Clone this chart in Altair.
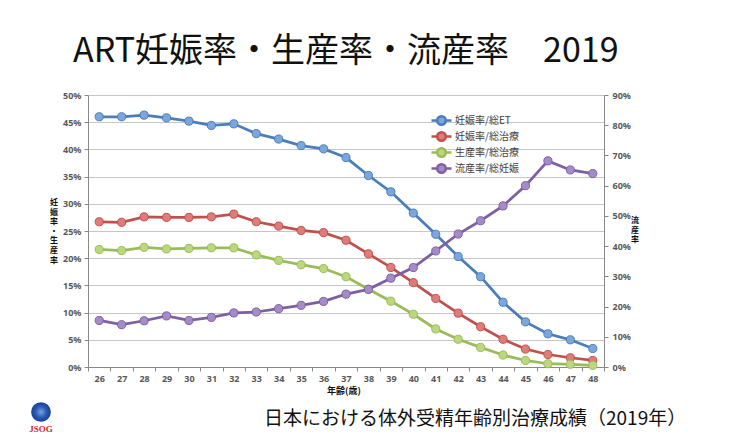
import altair as alt
import pandas as pd

ages = list(range(26, 49))
series_names = ["妊娠率/総ET", "妊娠率/総治療", "生産率/総治療", "流産率/総妊娠"]
preg_et = [46.0, 46.0, 46.3, 45.8, 45.2, 44.4, 44.7, 42.9, 41.9, 40.7, 40.1, 38.5,
           35.2, 32.2, 28.3, 24.4, 20.3, 16.6, 11.9, 8.3, 6.1, 5.0, 3.4]
preg_total = [26.7, 26.6, 27.6, 27.5, 27.5, 27.6, 28.1, 26.7, 25.9, 25.1, 24.7, 23.3,
              20.8, 18.3, 15.5, 12.6, 9.9, 7.4, 5.1, 3.3, 2.3, 1.7, 1.2]
birth_total = [21.6, 21.4, 22.0, 21.7, 21.8, 21.9, 21.9, 20.6, 19.6, 18.8, 18.1, 16.6,
               14.3, 12.1, 9.7, 7.0, 5.1, 3.6, 2.2, 1.2, 0.6, 0.5, 0.3]
miscarriage = [15.4, 14.0, 15.3, 16.9, 15.4, 16.4, 17.9, 18.2, 19.3, 20.4, 21.7, 24.1,
               25.7, 29.4, 32.9, 38.4, 44.0, 48.4, 53.3, 60.0, 68.2, 65.2, 64.0]
left_ticks = [0, 0.05, 0.10, 0.15, 0.20, 0.25, 0.30, 0.35, 0.40, 0.45, 0.50]
right_ticks = [0, 0.1, 0.2, 0.3, 0.4, 0.5, 0.6, 0.7, 0.8, 0.9]

title_text = "ART妊娠率・生産率・流産率　2019"
subtitle_text = "日本における体外受精年齢別治療成績（2019年）"
left_title = ["妊", "娠", "率", "・", "生", "産", "率"]
right_title = ["流", "産", "率"]
x_title = "年齢(歳)"

rows = []
for name, vals, side in [(series_names[0], preg_et, "left"),
                         (series_names[1], preg_total, "left"),
                         (series_names[2], birth_total, "left"),
                         (series_names[3], miscarriage, "right")]:
    for a, v in zip(ages, vals):
        rows.append({"age": a, "series": name, "value": v / 100.0, "side": side})
df = pd.DataFrame(rows)

line_colors = ["#4A7EBB", "#C0504D", "#9BBB59", "#7E5FA4"]
fill_colors = ["#7DA6DC", "#DD7C79", "#BBD97C", "#A58CC8"]

AXIS_GRAY = "#888888"
LABEL_GRAY = "#595959"
LFONT = "Noto Sans"
JFONT = "Noto Sans CJK JP"

legend = alt.Legend(
    title=None, orient="none", legendX=347, legendY=19, padding=0,
    symbolType="M-2,0L-0.85,0M0.85,0L2,0M-0.85,0A0.85,0.85 0 1,0 0.85,0A0.85,0.85 0 1,0 -0.85,0Z",
    symbolSize=100, symbolStrokeWidth=2.5, labelOffset=7, rowPadding=-3,
    labelFont=JFONT, labelFontSize=10, labelColor="#404040",
)

stroke_enc = alt.Stroke("series:N", scale=alt.Scale(domain=series_names, range=line_colors), legend=legend)
fill_enc = alt.Fill("series:N", scale=alt.Scale(domain=series_names, range=fill_colors), legend=legend)

x_enc = alt.X(
    "age:O",
    bandPosition=0.5,
    scale=alt.Scale(type="band", paddingInner=0, paddingOuter=0),
    axis=alt.Axis(title=None, tickBand="extent", labelAngle=0, grid=False,
                  domainColor=AXIS_GRAY, tickColor=AXIS_GRAY, tickSize=4,
                  labelPadding=3, labelFont=LFONT, labelFontSize=9,
                  labelFontWeight="bold", labelColor=LABEL_GRAY),
)

y_left = alt.Y(
    "value:Q",
    scale=alt.Scale(domain=[0, 0.5], nice=False),
    axis=alt.Axis(title=None, values=left_ticks, format=".0%", orient="left",
                  grid=True, gridColor="#c6c6c6", gridWidth=1,
                  domainColor=AXIS_GRAY, tickColor=AXIS_GRAY, tickSize=4,
                  labelPadding=3, labelFont=LFONT, labelFontSize=9,
                  labelFontWeight="bold", labelColor=LABEL_GRAY),
)
y_right = alt.Y(
    "value:Q",
    scale=alt.Scale(domain=[0, 0.9], nice=False),
    axis=alt.Axis(title=None, values=right_ticks, format=".0%", orient="right",
                  grid=False, domainColor=AXIS_GRAY, tickColor=AXIS_GRAY, tickSize=4,
                  labelPadding=4, labelFont=LFONT, labelFontSize=9,
                  labelFontWeight="bold", labelColor=LABEL_GRAY),
)

base = alt.Chart(df)
left_data = base.transform_filter(alt.datum.side == "left")
right_data = base.transform_filter(alt.datum.side == "right")

left_layer = alt.layer(
    left_data.mark_line(strokeWidth=2.75).encode(x=x_enc, y=y_left, stroke=stroke_enc),
    left_data.mark_point(filled=True, size=66, strokeWidth=1, opacity=1).encode(
        x=x_enc, y=y_left, stroke=stroke_enc, fill=fill_enc),
)
right_layer = alt.layer(
    right_data.mark_line(strokeWidth=2.75).encode(x=x_enc, y=y_right, stroke=stroke_enc),
    right_data.mark_point(filled=True, size=66, strokeWidth=1, opacity=1).encode(
        x=x_enc, y=y_right, stroke=stroke_enc, fill=fill_enc),
)

one = pd.DataFrame({"k": [0]})

def text_layer(txt, x, y, **kw):
    return alt.Chart(one).mark_text(text=txt, **kw).encode(x=alt.value(x), y=alt.value(y))

title_l = text_layer(title_text, -15, -33, font=JFONT, fontSize=34, fontWeight=400,
                     align="left", baseline="alphabetic", color="#111111")
subtitle_l = text_layer(subtitle_text, 176, 330, font=JFONT, fontSize=19, fontWeight=400,
                        align="left", baseline="alphabetic", color="#111111")
ltitle_l = text_layer(left_title, -34, 108, font=JFONT, fontSize=8, fontWeight="bold",
                      lineHeight=9.6, align="center", baseline="middle", color="#111111")
rtitle_l = text_layer(right_title, 547, 126, font=JFONT, fontSize=8, fontWeight="bold",
                      lineHeight=9.6, align="center", baseline="middle", color="#111111")
xtitle_l = text_layer(x_title, 256, 296, font=JFONT, fontSize=9, fontWeight="bold",
                      align="center", baseline="middle", color="#111111")

logo_grad = alt.RadialGradient(
    gradient="radial", x1=0.5, y1=0.5, x2=0.5, y2=0.5, r1=0, r2=0.5,
    stops=[alt.GradientStop(color="#7aa3e6", offset=0),
           alt.GradientStop(color="#2a5bb5", offset=0.55),
           alt.GradientStop(color="#173f94", offset=1)],
)
logo_l = alt.Chart(one).mark_point(shape="circle", filled=True, size=390, fill=logo_grad,
                                   opacity=1, strokeWidth=0).encode(
    x=alt.value(-47), y=alt.value(317))
jsog_l = text_layer("JSOG", -47, 334, font="Liberation Serif", fontSize=9, fontWeight="bold",
                    align="center", baseline="middle", color="#d7262e")

chart = alt.layer(
    left_layer, right_layer, title_l, subtitle_l, ltitle_l, rtitle_l, xtitle_l, logo_l, jsog_l
).resolve_scale(y="independent").properties(
    width=516, height=272,
    padding={"left": 80, "top": 87, "right": 118, "bottom": 66},
    autosize=alt.AutoSizeParams(type="none"),
    background="white",
).configure_view(strokeWidth=0)

chart.save("out.html", embed_options={"renderer": "svg", "actions": False})
